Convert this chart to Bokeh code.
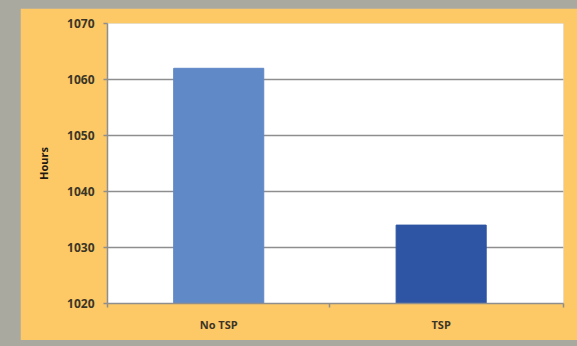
from bokeh.plotting import figure
from bokeh.models import Range1d, FixedTicker, ColumnDataSource
from bokeh.layouts import column
from bokeh.embed import file_html
from bokeh.resources import INLINE

categories = ["No TSP", "TSP"]
hours = [1062, 1034]
bar_colors = ["#5f89c7", "#2d55a3"]
y_ticks = [1020, 1030, 1040, 1050, 1060, 1070]

xs = [i + 0.5 for i in range(len(categories))]
x_end = len(categories) * 1.025
src = ColumnDataSource(dict(x=xs, top=hours, color=bar_colors))

p = figure(width=557, height=332, output_backend="svg", toolbar_location=None,
           x_range=Range1d(0, x_end), y_range=Range1d(1020, 1070),
           min_border_left=87, min_border_right=14, min_border_top=15, min_border_bottom=37)
p.margin = (8, 0, 6, 20)
p.border_fill_color = "#fdc966"
p.background_fill_color = "white"
p.outline_line_color = None

p.vbar(x="x", top="top", bottom=1020, width=0.405, color="color", source=src)

grid_col = "#8e8e8e"
p.xgrid.visible = False
p.ygrid.ticker = FixedTicker(ticks=y_ticks)
p.ygrid.grid_line_color = grid_col
p.ygrid.grid_line_width = 1.5

ya = p.yaxis[0]
ya.ticker = FixedTicker(ticks=y_ticks)
ya.axis_line_color = grid_col
ya.axis_line_width = 1.5
ya.major_tick_line_color = grid_col
ya.major_tick_line_width = 1.5
ya.major_tick_in = 0
ya.major_tick_out = 4
ya.minor_tick_line_color = None
ya.major_label_standoff = 9
ya.major_label_text_font = "Open Sans"
ya.major_label_text_font_size = "12px"
ya.major_label_text_font_style = "bold"
ya.major_label_text_color = "#3b3526"
ya.axis_label = "Hours"
ya.axis_label_text_font = "Open Sans"
ya.axis_label_text_font_size = "11px"
ya.axis_label_text_font_style = "bold"
ya.axis_label_text_color = "#1e1a12"
ya.axis_label_standoff = 13

xa = p.xaxis[0]
xa.ticker = FixedTicker(ticks=xs, minor_ticks=list(range(len(categories))) + [x_end])
xa.major_label_overrides = {x: c for x, c in zip(xs, categories)}
xa.axis_line_color = grid_col
xa.axis_line_width = 1.5
xa.major_tick_line_color = None
xa.minor_tick_line_color = grid_col
xa.minor_tick_line_width = 1.5
xa.minor_tick_in = 0
xa.minor_tick_out = 4
xa.major_label_standoff = 7
xa.major_label_text_font = "Open Sans"
xa.major_label_text_font_size = "11px"
xa.major_label_text_font_style = "bold"
xa.major_label_text_color = "#3b3526"

layout = column(p, width=577, height=346, styles={"background-color": "#aaa9a0"})

open("out.html", "w").write(file_html(layout, INLINE))
